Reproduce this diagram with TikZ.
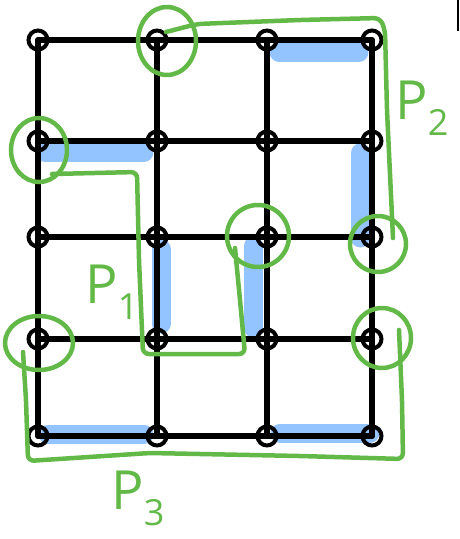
\documentclass[tikz,border=0pt]{standalone}
\usepackage{fontspec}
\setsansfont{Open Sans}
\usetikzlibrary{shapes.geometric}
\definecolor{hlblue}{RGB}{148,196,255}
\definecolor{pgreen}{RGB}{98,185,72}
\begin{document}
\begin{tikzpicture}[x=1pt,y=-1pt,
  gridline/.style={line width=5.5pt,line cap=round},
  vtx/.style={circle,draw,line width=4pt,minimum size=19pt,inner sep=0pt},
  hl/.style={hlblue,line width=19pt,line cap=round},
  gline/.style={pgreen,line width=4.5pt,line cap=round,line join=round,rounded corners=6pt},
  gring/.style={ellipse,draw=pgreen,line width=4.5pt,inner sep=0pt},
  plabel/.style={text=pgreen,font=\sffamily\fontsize{54}{58}\selectfont,inner sep=0pt}]
\useasboundingbox (0,0) rectangle (459,539);
\foreach \c/\x in {1/38,2/157,3/267,4/372}
  \foreach \r/\y in {1/40,2/141,3/237,4/339,5/436}
    \coordinate (p\c\r) at (\x,\y);
% blue highlights
\draw[hl] (279,52) -- (359,52);
\draw[hl] (45,152) -- (144,152);
\draw[hl] (360,153) -- (360,238);
\draw[hl] (161,249) -- (161,324);
\draw[hl] (253,246) -- (253,328);
\draw[hl] (48,434) -- (144,434);
\draw[hl] (280,433) -- (370,433);
% grid
\foreach \r in {1,...,5} \draw[gridline] (p1\r) -- (p4\r);
\foreach \c in {1,...,4} \draw[gridline] (p\c1) -- (p\c5);
\foreach \c in {1,...,4}
  \foreach \r in {1,...,5}
    \node[vtx] (v\c\r) at (p\c\r) {};
% stray mark
\draw[line width=2pt] (458,0) -- (458,31);
% green rings
\node[gring,minimum width=58pt,minimum height=68pt] (g1) at (167,41) {};
\node[gring,minimum width=56pt,minimum height=64pt] (g2) at (39,150) {};
\node[gring,minimum width=62pt,minimum height=62pt] (g3) at (258,236) {};
\node[gring,minimum width=56pt,minimum height=56pt] (g4) at (378,244) {};
\node[gring,minimum width=68pt,minimum height=54pt] (g5) at (39,343) {};
\node[gring,minimum width=58pt,minimum height=60pt] (g6) at (382,338) {};
% green paths
\coordinate (a2) at (166,32);
\coordinate (b2) at (393,238);
\draw[gline] (a2) -- (197,24) -- (300,20) -- (380,18) -- (385,30) -- (387,110) -- (b2);
\coordinate (a1) at (52,174);
\coordinate (b1) at (235,248);
\draw[gline] (a1) -- (137,172) -- (139,260) -- (143,354) -- (245,354) -- (240,300) -- (b1);
\coordinate (a3) at (23,352);
\coordinate (b3) at (399,330);
\draw[gline] (a3) -- (26,400) -- (28,461) -- (150,453) -- (300,456) -- (403,459) -- (402,400) -- (b3);
% labels
\node[plabel] (l1) at (112,292) {P\raisebox{-0.3em}{\fontsize{36}{40}\selectfont 1}};
\node[plabel] (l2) at (422,108) {P\raisebox{-0.3em}{\fontsize{36}{40}\selectfont 2}};
\node[plabel] (l3) at (138,498) {P\raisebox{-0.3em}{\fontsize{36}{40}\selectfont 3}};
\end{tikzpicture}
\end{document}
